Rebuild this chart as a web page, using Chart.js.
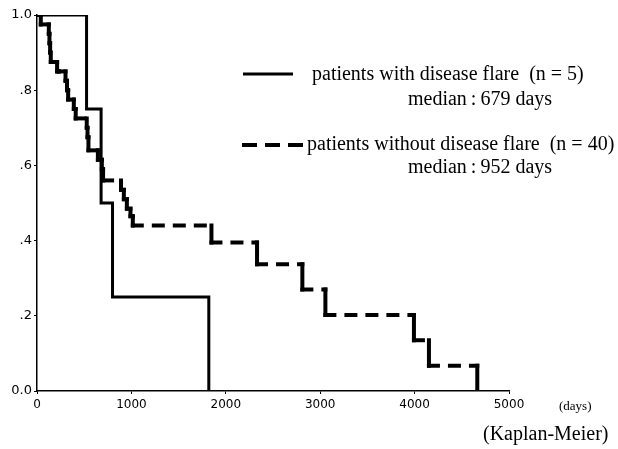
<!DOCTYPE html>
<html>
<head>
<meta charset="utf-8">
<script src="https://cdn.jsdelivr.net/npm/chart.js@4"></script>
<style>
  html, body { margin: 0; padding: 0; background: #fff; }
  #wrap { width: 618px; height: 449px; }
</style>
</head>
<body>
<div id="wrap"><canvas id="km" width="618" height="449"></canvas></div>
<script>
// ===============================
//  DATA
// ===============================
const xTicks = [0, 1000, 2000, 3000, 4000, 5000];
const yTicks = [0, 0.2, 0.4, 0.6, 0.8, 1.0];

// with disease flare (n = 5)
const flareDays = [0, 525, 679, 800, 1820];
const flareSurv = [1.0, 0.75, 0.5, 0.25, 0];

// without disease flare (n = 40)
const noFlareDays = [0, 40, 125, 132, 139, 146, 213, 232, 302, 318, 330, 390, 410, 527, 535, 545, 645, 687, 700,
  890, 920, 952, 990, 1015, 1848, 2331, 2811, 3055, 3993, 4152, 4664];
const noFlareSurv = [1.0, 0.975, 0.95, 0.925, 0.9, 0.875, 0.85, 0.85, 0.825, 0.8, 0.775, 0.75, 0.725, 0.7, 0.675, 0.64, 0.615, 0.59, 0.56,
  0.535, 0.51, 0.485, 0.465, 0.44, 0.395, 0.337, 0.27, 0.202, 0.135, 0.067, 0];

const legendLines = [
  { label: "patients with disease flare  (n = 5)", median: "median\u2009:\u2009679 days", dash: [] },
  { label: "patients without disease flare  (n = 40)", median: "median\u2009:\u2009952 days", dash: [15, 8] }
];

// step corners: horizontal at S(i) up to t(i+1), then drop
function stepCorners(days, surv) {
  const pts = [];
  for (let i = 0; i < days.length; i++) {
    if (i > 0) pts.push({ x: days[i], y: surv[i - 1] });
    pts.push({ x: days[i], y: surv[i] });
  }
  return pts;
}

const serif = '"Liberation Serif", "Times New Roman", serif';
const sans = '"DejaVu Sans", Arial, sans-serif';

// ===============================
//  LEGEND + EXTRA TEXT
// ===============================
const extras = {
  id: "extras",
  afterDraw(chart) {
    const ctx = chart.ctx;
    ctx.save();
    ctx.fillStyle = "#000";
    ctx.strokeStyle = "#000";
    ctx.textBaseline = "middle";
    ctx.textAlign = "left";

    // solid sample
    ctx.lineWidth = 3;
    ctx.setLineDash([]);
    ctx.beginPath();
    ctx.moveTo(243, 74);
    ctx.lineTo(293, 74);
    ctx.stroke();

    ctx.font = "20px " + serif;
    ctx.fillText(legendLines[0].label, 312, 75);
    ctx.fillText(legendLines[0].median, 408, 100);

    // dashed sample
    ctx.lineWidth = 4;
    ctx.setLineDash(legendLines[1].dash);
    ctx.beginPath();
    ctx.moveTo(242, 145);
    ctx.lineTo(303, 145);
    ctx.stroke();
    ctx.setLineDash([]);

    ctx.fillText(legendLines[1].label, 307, 145);
    ctx.fillText(legendLines[1].median, 408, 168);

    ctx.font = "13px " + serif;
    ctx.fillText("(days)", 559, 407);

    ctx.font = "20px " + serif;
    ctx.fillText("(Kaplan-Meier)", 483, 435);
    ctx.restore();
  }
};

// ===============================
//  GRAFICO
// ===============================
const ctx = document.getElementById("km").getContext("2d");

new Chart(ctx, {
  type: "line",
  data: {
    datasets: [
      {
        label: "with flare",
        data: flareDays.map((d, i) => ({ x: d, y: flareSurv[i] })),
        stepped: true,
        borderColor: "#000",
        borderWidth: 3,
        pointRadius: 0,
        fill: false
      },
      {
        label: "without flare",
        data: stepCorners(noFlareDays, noFlareSurv),
        borderColor: "#000",
        borderWidth: 4,
        borderCapStyle: "square",
        pointRadius: 0,
        fill: false,
        segment: {
          // drops are drawn solid, flat parts dashed
          borderDash: c => (c.p0.parsed.x === c.p1.parsed.x ? [] : [9, 12])
        }
      }
    ]
  },
  options: {
    responsive: false,
    animation: false,
    layout: { padding: { top: 15, right: 109, left: 0, bottom: 0 } },
    plugins: { legend: { display: false }, tooltip: { enabled: false } },
    scales: {
      x: {
        type: "linear",
        min: 0,
        max: 5000,
        afterBuildTicks: s => { s.ticks = xTicks.map(v => ({ value: v })); },
        afterFit: s => { s.height = 58; },
        grid: { drawOnChartArea: false, drawTicks: true, tickLength: 3, color: "#000" },
        border: { display: true, color: "#000", width: 1.5 },
        ticks: {
          color: "#000",
          font: { family: sans, size: 12 },
          padding: 4,
          maxRotation: 0,
          callback: v => String(v)
        }
      },
      y: {
        min: 0,
        max: 1,
        afterBuildTicks: s => { s.ticks = yTicks.map(v => ({ value: v })); },
        afterFit: s => { s.width = 37; },
        grid: { drawOnChartArea: false, drawTicks: true, tickLength: 3, color: "#000" },
        border: { display: true, color: "#000", width: 1.5 },
        ticks: {
          color: "#000",
          font: { family: sans, size: 13 },
          padding: 2,
          callback: v => (v === 0 || v === 1 ? v.toFixed(1) : v.toFixed(1).replace(/^0/, ""))
        }
      }
    }
  },
  plugins: [extras]
});
</script>
</body>
</html>
